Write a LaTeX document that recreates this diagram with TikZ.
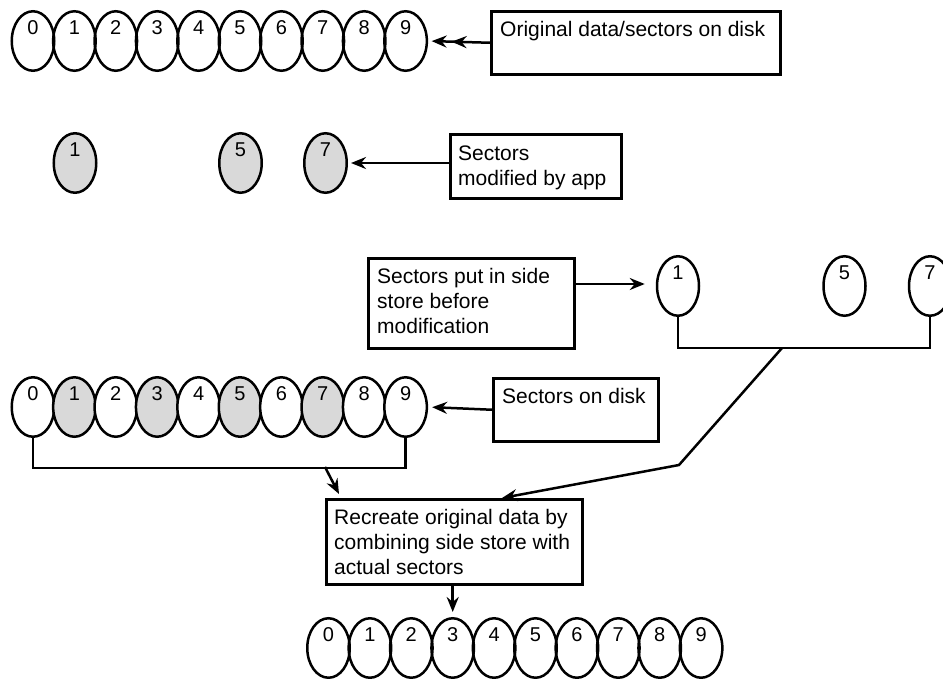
\documentclass[tikz,border=0pt]{standalone}
\usepackage{fontspec}
\setmainfont{Liberation Sans}
\usetikzlibrary{shapes.geometric,arrows.meta,calc}
\definecolor{modgray}{HTML}{D9D9D9}
\begin{document}
\begin{tikzpicture}[x=1pt,y=-1pt,
  sec/.style={ellipse, draw, line width=2.5pt, minimum width=42.5pt, minimum height=59.5pt, inner sep=0pt,
    label={[font=\fontsize{20}{22}\selectfont, inner sep=0pt, yshift=13pt]center:#1}},
  secg/.style={sec=#1, fill=modgray},
  box/.style={draw, line width=2.5pt, rectangle, inner sep=0pt, anchor=north west},
  txt/.style={inner sep=0pt, anchor=base west, font=\fontsize{21}{25}\selectfont},
  arr/.style={line width=2.5pt, -{Stealth[length=15pt,width=12pt,inset=5pt]}},
  arrtwo/.style={line width=2.5pt, -{Stealth[length=15pt,width=12pt,inset=5pt,sep=5pt]Stealth[length=15pt,width=12pt,inset=5pt]}},
  con/.style={line width=2.5pt}]
\useasboundingbox (0,0) rectangle (943,678);

% top row: original sectors
\foreach \i in {0,...,9} \node[sec=\i] (t\i) at ({33+41.4*\i},41) {};
\node[box, minimum width=289pt, minimum height=63pt] (ob) at (490,10) {};
\node[txt] at ($(ob.north west)+(10,26.5)$) {Original data/sectors on disk};
\draw[arrtwo, shorten >=3.5pt] (ob.west) -- (t9.east);

% row 2: modified sectors
\node[secg=1] (g1) at (75,163) {};
\node[secg=5] (g5) at (240.5,163) {};
\node[secg=7] (g7) at (325.5,163) {};
\node[box, minimum width=171pt, minimum height=64pt] (mb) at (449,133) {};
\node[txt] at ($(mb.north west)+(9,27.5)$) {\begin{tabular}[t]{@{}l@{}}Sectors\\ modified by app\end{tabular}};
\coordinate (ma) at ($(mb.north west)+(0,30)$);
\draw[arr, shorten >=3pt] (ma) -- (g7.east);

% row 3: side store
\node[box, minimum width=206pt, minimum height=90pt] (pb) at (367,257) {};
\node[txt] at ($(pb.north west)+(10,26)$) {\begin{tabular}[t]{@{}l@{}}Sectors put in side\\ store before\\ modification\end{tabular}};
\node[sec=1, minimum width=42pt] (s1) at (678,286) {};
\node[sec=5, minimum width=42pt] (s5) at (844.5,286) {};
\node[sec=7, minimum width=42pt] (s7) at (930,286) {};
\coordinate (pa) at ($(pb.north east)+(0,27)$);
\draw[arr, shorten >=11pt] (pa) -- (pa -| s1.west);
\draw[con] (s1.south) -- ++(0,31) -| (s7.south);

% row 4: sectors on disk
\foreach \i/\f in {0/white,1/modgray,2/white,3/modgray,4/white,5/modgray,6/white,7/modgray,8/white,9/white}
  \node[sec=\i, fill=\f] (a\i) at ({33+41.4*\i},407) {};
\node[box, minimum width=165pt, minimum height=63pt] (db) at (492,377) {};
\node[txt] at ($(db.north west)+(10,26.5)$) {Sectors on disk};
\draw[arr, shorten >=4pt] (db.west) -- (a9.east);
\draw[con] (a0.south) -- ++(0,30) -| (a9.south);

% recreate box
\node[box, minimum width=256pt, minimum height=85pt] (rb) at (325,498) {};
\node[txt] at ($(rb.north west)+(9,26.5)$) {\begin{tabular}[t]{@{}l@{}}Recreate original data by\\ combining side store with\\ actual sectors\end{tabular}};
\coordinate (j1) at ($(s1.south)+(104,31)$);
\coordinate (k1) at (679,465);
\draw[arr] (j1) -- (k1) -- ($(rb.north west)+(177,0)$);
\coordinate (j2) at (325,467);
\draw[arr] (j2) -- ($(rb.north west)+(14,-4)$);

% bottom row: recreated data
\foreach \i in {0,...,9} \node[sec=\i] (b\i) at ({328.5+41.4*\i},648) {};
\draw[arr, shorten >=5pt] (rb.south -| b3.north) -- (b3.north);
\end{tikzpicture}
\end{document}
